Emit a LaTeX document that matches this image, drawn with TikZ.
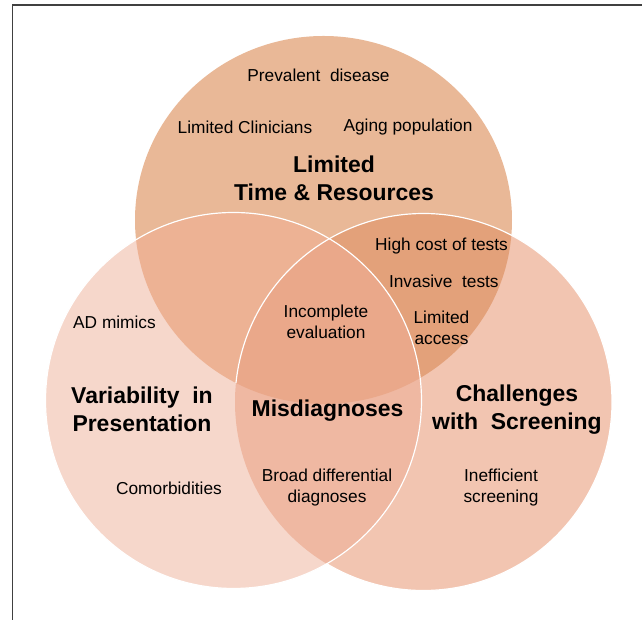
\documentclass[tikz,border=0pt]{standalone}
\usepackage{fontspec}
\setmainfont{Liberation Sans}
\usepackage{tikz}

\definecolor{timeFill}{RGB}{233,184,151}
\definecolor{variabilityFill}{RGB}{246,215,203}
\definecolor{screeningFill}{RGB}{242,197,177}
\definecolor{timeVariabilityFill}{RGB}{237,178,148}
\definecolor{timeScreeningFill}{RGB}{227,161,122}
\definecolor{variabilityScreeningFill}{RGB}{239,184,162}
\definecolor{misdiagnosisFill}{RGB}{234,168,138}

\begin{document}
\begin{tikzpicture}[x=0.85pt,y=0.85pt]
	%defines
	\tikzstyle{factor} = [font=\fontsize{14.7}{17.9}\selectfont, align=center, inner sep=0pt, text=black]
	\tikzstyle{heading} = [font=\fontsize{19.5}{23.8}\selectfont\bfseries, align=center, inner sep=0pt, text=black]
	\tikzstyle{outline} = [draw=white, line width=1pt]
	\useasboundingbox (0,0) rectangle (642,620);
	%frame
	\draw [line width=1pt, black!75] (12.5,0) -- (12.5,615) -- (642,615);
	%circles
	\coordinate (timeCircle) at (323.5,400);
	\coordinate (variabilityCircle) at (233.5,219.5);
	\coordinate (screeningCircle) at (423.5,218);
	\fill [timeFill] (timeCircle) ellipse [x radius=188.5, y radius=184];
	\fill [screeningFill] (screeningCircle) circle [radius=188.5];
	\fill [variabilityFill] (variabilityCircle) circle [radius=188];
	%overlaps
	\begin{scope}
		\clip (timeCircle) ellipse [x radius=188.5, y radius=184];
		\fill [timeVariabilityFill] (variabilityCircle) circle [radius=188];
		\fill [timeScreeningFill] (screeningCircle) circle [radius=188.5];
	\end{scope}
	\begin{scope}
		\clip (variabilityCircle) circle [radius=188];
		\fill [variabilityScreeningFill] (screeningCircle) circle [radius=188.5];
		\clip (timeCircle) ellipse [x radius=188.5, y radius=184];
		\fill [misdiagnosisFill] (screeningCircle) circle [radius=188.5];
	\end{scope}
	%white edges
	\draw [outline] (screeningCircle) ++(-120.8:188.5) arc [start angle=-120.8, end angle=174.2, radius=188.5];
	\draw [outline] (variabilityCircle) circle [radius=188];
	%labels
	\node (prevalent) [factor] at (318.5,545) {Prevalent~ disease};
	\node (clinicians) [factor] at (245,493) {Limited Clinicians};
	\node (aging) [factor] at (408,493) {Aging population};
	\node (timeTitle) [heading] at (334,441.5) {Limited\\Time \& Resources};
	\node (highCost) [factor] at (441.5,374) {High cost of tests};
	\node (invasive) [factor, below of=highCost, node distance=29.75pt, xshift=2pt] {Invasive~ tests};
	\node (access) [factor, below of=invasive, node distance=40pt, xshift=-2pt] {Limited\\access};
	\node (incomplete) [factor] at (326,298) {Incomplete\\evaluation};
	\node (mimics) [factor] at (114.5,298) {AD mimics};
	\node (variabilityTitle) [heading] at (142,211) {Variability~ in\\Presentation};
	\node (misdiagnoses) [heading] at (327.5,209) {Misdiagnoses};
	\node (screeningTitle) [heading] at (517,210) {Challenges\\with~ Screening};
	\node (comorbidities) [factor] at (169,132) {Comorbidities};
	\node (broad) [factor] at (327,132.5) {Broad differential\\diagnoses};
	\node (inefficient) [factor] at (501,132.5) {Inefficient\\screening};
\end{tikzpicture}
\end{document}
